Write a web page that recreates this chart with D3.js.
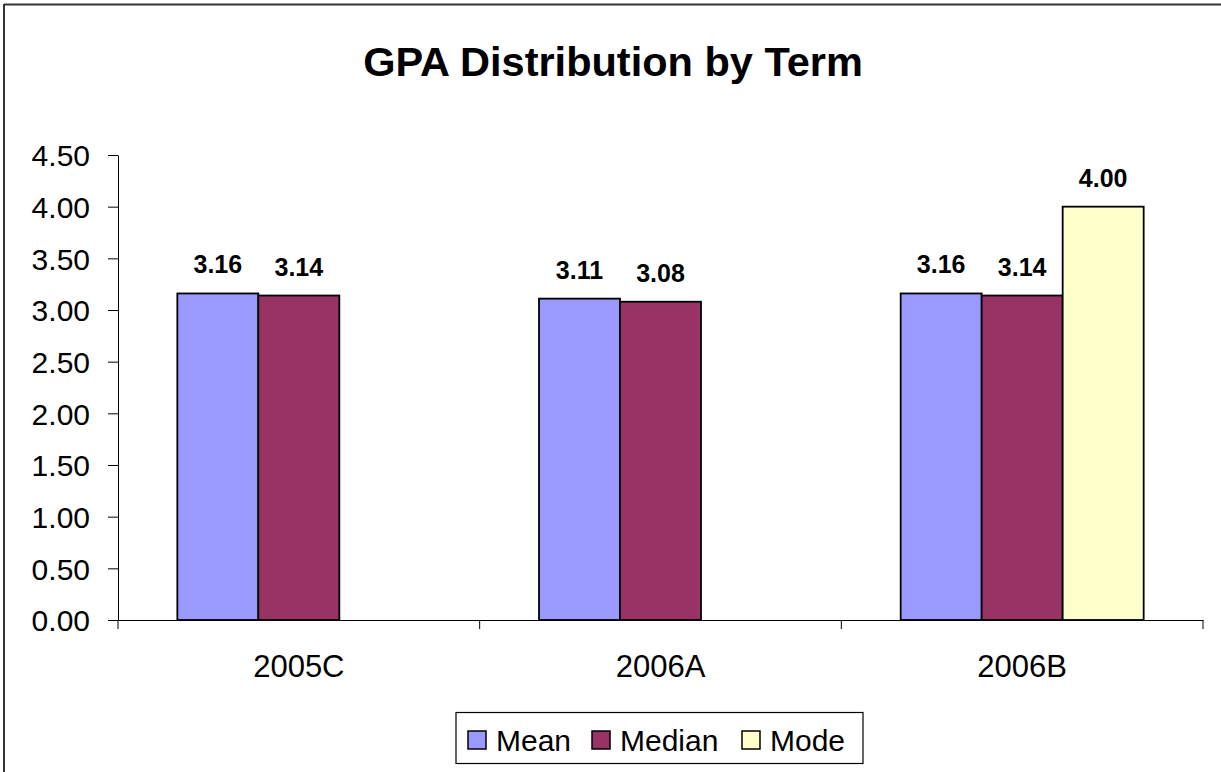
<!DOCTYPE html>
<html><head><meta charset="utf-8">
<script src="https://cdn.jsdelivr.net/npm/d3@7"></script>
<style>body{margin:0;background:#fff;} svg{display:block;font-family:Arial,"Liberation Sans",sans-serif;}</style>
</head><body>
<svg id="c" width="1221" height="772"></svg>
<script>
const categories = ["2005C", "2006A", "2006B"];
const seriesNames = ["Mean", "Median", "Mode"];
const meanValues = [3.16, 3.11, 3.16];
const medianValues = [3.14, 3.08, 3.14];
const modeValues = [null, null, 4.00];
const yTicks = [0, 0.5, 1, 1.5, 2, 2.5, 3, 3.5, 4, 4.5];
const colors = ["#9999FF", "#993366", "#FFFFCC"];

(function () {
const seriesValues = [meanValues, medianValues, modeValues];
const svg = d3.select("#c");
const pLeft = 118, pRight = 1203, pTop = 155, pBottom = 620;

// outer border (top & left visible)
svg.append("line").attr("x1", 4).attr("x2", 1221).attr("y1", 4.5).attr("y2", 4.5).attr("stroke", "#333").attr("stroke-width", 2);
svg.append("line").attr("x1", 4).attr("x2", 4).attr("y1", 4).attr("y2", 772).attr("stroke", "#333").attr("stroke-width", 2);

svg.append("text").attr("x", 613).attr("y", 76).attr("text-anchor", "middle")
  .attr("font-size", 41.5).attr("font-weight", "bold").text("GPA Distribution by Term");

const x0 = d3.scaleBand().domain(categories).range([pLeft, pRight]).paddingInner(0).paddingOuter(0);
const groupW = x0.bandwidth() * 243 / 361.67;
const x1 = d3.scaleBand().domain(seriesNames).range([0, groupW]);
const y = d3.scaleLinear().domain([0, 4.5]).range([pBottom, pTop]);

// y axis
const yAxis = d3.axisLeft(y).tickValues(yTicks).tickFormat(d3.format(".2f")).tickSize(10).tickSizeOuter(0);
const gy = svg.append("g").attr("transform", `translate(${pLeft},0)`).call(yAxis);
gy.attr("font-family", null);
gy.selectAll("text").attr("font-size", 30).attr("fill", "#000").attr("x", -28).attr("dy", "0.36em");
gy.selectAll("line").attr("stroke", "#000");
gy.select(".domain").attr("stroke", "#000");

// x axis
const gx = svg.append("g").attr("transform", `translate(0,${pBottom})`)
  .call(d3.axisBottom(x0).tickSize(0).tickSizeOuter(0));
gx.attr("font-family", null);
gx.select(".domain").attr("stroke", "#000");
gx.selectAll("text").attr("font-size", 31).attr("fill", "#000").attr("dy", 0).attr("y", 57);
const bounds = categories.map(c => x0(c)).concat([x0(categories[categories.length-1]) + x0.bandwidth()]);
svg.append("g").selectAll("line").data(bounds).join("line")
  .attr("x1", d => d).attr("x2", d => d).attr("y1", pBottom).attr("y2", pBottom + 9)
  .attr("stroke", "#000");

// bars
const groups = svg.append("g").selectAll("g").data(categories).join("g")
  .attr("transform", c => `translate(${x0(c) + (x0.bandwidth() - groupW) / 2},0)`);
groups.each(function(c, ci) {
  const g = d3.select(this);
  const data = seriesNames.map((s, si) => ({s, si, v: seriesValues[si][ci]})).filter(d => d.v != null);
  g.selectAll("rect").data(data).join("rect")
    .attr("x", d => x1(d.s)).attr("width", x1.bandwidth())
    .attr("y", d => y(d.v)).attr("height", d => y(0) - y(d.v))
    .attr("fill", d => colors[d.si]).attr("stroke", "#000").attr("stroke-width", 1.8);
  g.selectAll("text").data(data).join("text")
    .attr("x", d => x1(d.s) + x1.bandwidth() / 2).attr("y", d => y(d.v) - 20)
    .attr("text-anchor", "middle").attr("font-size", 25).attr("font-weight", "bold")
    .text(d => d3.format(".2f")(d.v));
});

// legend
const lg = svg.append("g");
lg.append("rect").attr("x", 456).attr("y", 712.5).attr("width", 407).attr("height", 51)
  .attr("fill", "#fff").attr("stroke", "#000").attr("stroke-width", 1.2);
const legendX = [468, 592, 742];
seriesNames.forEach((s, i) => {
  lg.append("rect").attr("x", legendX[i]).attr("y", 731).attr("width", 18).attr("height", 18)
    .attr("fill", colors[i]).attr("stroke", "#000").attr("stroke-width", 1.5);
  lg.append("text").attr("x", legendX[i] + 28).attr("y", 750.5).attr("font-size", 30).text(s);
});
})();
</script>
</body></html>
